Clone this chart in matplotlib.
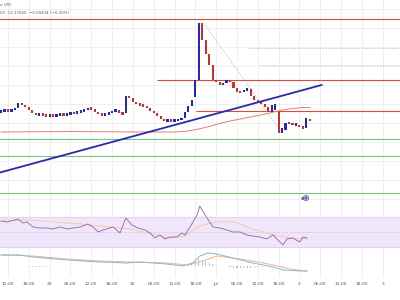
import numpy as np
import matplotlib.pyplot as plt

# hourly candles, Jun 28 10:00 -> Jul 2 03:00
opens = [2.1774, 2.1776, 2.1778, 2.1776, 2.1778, 2.1782, 2.1792, 2.1788, 2.1784, 2.1778,
         2.1772, 2.1768, 2.1770, 2.1768, 2.1766, 2.1768, 2.1766, 2.1768, 2.1770, 2.1768,
         2.1770, 2.1772, 2.1771, 2.1774, 2.1776, 2.1778, 2.1782, 2.1780, 2.1774, 2.1770,
         2.1768, 2.1770, 2.1772, 2.1776, 2.1778, 2.1772, 2.1772, 2.1806, 2.1802, 2.1794,
         2.1790, 2.1788, 2.1786, 2.1782, 2.1776, 2.1772, 2.1766, 2.1760, 2.1756, 2.1758,
         2.1756, 2.1758, 2.1758, 2.1762, 2.1774, 2.1786, 2.1804, 2.1838, 2.1952, 2.1918,
         2.1890, 2.1868, 2.1838, 2.1834, 2.1828, 2.1832, 2.1838, 2.1834, 2.1822, 2.1814,
         2.1813, 2.1818, 2.1820, 2.1806, 2.1798, 2.1794, 2.1790, 2.1784, 2.1774, 2.1778,
         2.1774, 2.1732, 2.1738, 2.1754, 2.1752, 2.1748, 2.1748, 2.1746, 2.1742, 2.1760]
closes = [2.1776, 2.1778, 2.1776, 2.1778, 2.1782, 2.1792, 2.1788, 2.1784, 2.1778, 2.1772,
          2.1768, 2.1770, 2.1768, 2.1766, 2.1768, 2.1766, 2.1768, 2.1770, 2.1768, 2.1770,
          2.1772, 2.1771, 2.1774, 2.1776, 2.1778, 2.1782, 2.1780, 2.1774, 2.1770, 2.1768,
          2.1770, 2.1772, 2.1776, 2.1778, 2.1772, 2.1770, 2.1806, 2.1802, 2.1794, 2.1790,
          2.1788, 2.1786, 2.1782, 2.1776, 2.1772, 2.1766, 2.1760, 2.1756, 2.1758, 2.1756,
          2.1758, 2.1758, 2.1762, 2.1774, 2.1786, 2.1798, 2.1838, 2.1952, 2.1918, 2.1890,
          2.1868, 2.1838, 2.1834, 2.1828, 2.1832, 2.1838, 2.1834, 2.1822, 2.1814, 2.1813,
          2.1818, 2.1820, 2.1806, 2.1798, 2.1794, 2.1790, 2.1784, 2.1774, 2.1788, 2.1790,
          2.1732, 2.1742, 2.1752, 2.1750, 2.1748, 2.1750, 2.1744, 2.1740, 2.1762, 2.1756]

# moving average (thin red curve)
ma_idx = [0, 20, 40, 50, 54, 57, 60, 63, 66, 69, 72, 75, 78, 81, 84, 87, 89]
ma_val = [2.1734, 2.1735, 2.1734, 2.1734, 2.1736, 2.1740, 2.1745, 2.1751, 2.1756,
          2.1760, 2.1764, 2.1768, 2.1773, 2.1778, 2.1781, 2.1783, 2.1783]

# drawn levels
red_levels = [2.1960, 2.1838, 2.1776]
red_starts = [-1, 44.9, 56.2]
green_levels = [2.1720, 2.1686, 2.1612]
fib_levels = [2.1902, 2.1868]
fib_starts = [70.9, 74.6]
trend_x = [-0.3, 92.4]
trend_y = [2.1653, 2.1828]
diag_x = [58.8, 79.8]
diag_y = [2.1948, 2.1744]

# RSI
rsi_idx = [0, 1.7, 4.9, 6.3, 7.5, 9.2, 11.2, 13.2, 15, 17, 19, 20.7, 22.8, 25, 26.5, 28,
           29.4, 32.3, 34.3, 36, 37.7, 39.5, 41.5, 42.9, 44.4, 45.8, 47.2, 48.7, 50.7,
           52.1, 53, 54.5, 56.5, 57.3, 58.8, 61.1, 63.1, 65.1, 66.8, 68.9, 70.9, 72.6,
           74.6, 76.6, 78.4, 79.8, 81.3, 82.4, 84.1, 86.1, 87, 88.2]
rsi_val = [64.7, 63.3, 67.3, 62, 63.3, 56.7, 55.3, 55.3, 54, 56.7, 54, 55.3, 56.7, 60.7,
           56.7, 50, 52.7, 56.7, 48.7, 68.7, 59.3, 55.3, 52.7, 48.7, 42, 46, 40.7, 43.3,
           43.3, 48.7, 46, 56.7, 72.7, 84.7, 72.7, 56.7, 55.3, 52.7, 50, 50, 46, 44.7,
           43.3, 40.7, 46, 39.3, 32.7, 40.7, 42, 36.7, 43.3, 42]
rsi_ma_idx = [0, 8.3, 22.8, 37.2, 48.7, 53, 57.3, 61.7, 67.4, 71.7, 77.5, 83.3, 88.2]
rsi_ma_val = [64.7, 66, 60.7, 54, 42, 44.7, 58, 63.3, 63.3, 55.3, 47.3, 42, 40.7]

# MACD
macd_idx = [0, 5.5, 9.2, 19, 28.5, 36.3, 40, 47.8, 52.4, 55.3, 57.3, 59.6, 62.2, 66.8,
            72.6, 78.4, 81.3, 86.1, 88.2]
macd_val = [0.0011, 0.0011, 0.0009, 0.0006, 0.0004, 0.0003, 0.0004, 0.0002, 0.0, 0.0003,
            0.0010, 0.0013, 0.0012, 0.0008, 0.0003, -0.0001, -0.0004, -0.0005, -0.0005]
sig_idx = [0, 9.2, 19, 28.5, 38, 47.8, 53.6, 57.3, 62.2, 66.8, 72.6, 78.4, 83.3, 88.2]
sig_val = [0.0011, 0.0010, 0.0007, 0.0005, 0.0004, 0.0003, 0.0001, 0.0004, 0.0010,
           0.0008, 0.0005, 0.0001, -0.0003, -0.0005]
hist_idx = [8, 9, 10, 11, 12, 13, 54, 55, 56, 57, 58, 59, 60, 61,
            66, 67, 68, 69, 70, 71, 72, 73, 74, 75, 80, 81]
hist_val = [-0.0001] * 6 + [0.0001, 0.0003, 0.0005, 0.0007, 0.0006, 0.0005, 0.0003, 0.0002] \
           + [-0.0001, -0.0002, -0.0002, -0.0002, -0.0002, -0.0002, -0.0002, -0.0001,
              -0.0001, -0.0001, -0.0001, -0.0001]

# time axis (candle index of each label)
tick_idx = [2, 8, 14, 20, 26, 32, 38, 44, 50, 56, 62, 68, 74, 80, 86, 92, 98, 104, 110]
tick_lbl = ["12:00", "18:00", "29", "06:00", "12:00", "18:00", "30", "06:00", "12:00",
            "18:00", "Jul", "06:00", "12:00", "18:00", "2", "06:00", "12:00", "18:00", "3"]

BLUE = "#2626b8"
RED = "#c8302c"
GRID = "#ececec"
XLIM = (-0.3, 115.0)
MIN_BODY = 0.0005  # keep tiny candles visible

fig = plt.figure(figsize=(4, 3), dpi=100)
fig.patch.set_facecolor("white")
ax_p = fig.add_axes([0, 0.3167, 1, 0.6833])
ax_r = fig.add_axes([0, 0.1667, 1, 0.15])
ax_m = fig.add_axes([0, 0.0767, 1, 0.09])

for ax in (ax_p, ax_r, ax_m):
    ax.set_xlim(*XLIM)
    for s in ax.spines.values():
        s.set_visible(False)
    ax.set_xticks(tick_idx)
    ax.tick_params(length=0, labelleft=False, labelbottom=False)
    ax.grid(True, color=GRID, lw=0.6)
    ax.set_axisbelow(True)

# ---- price pane
ax_p.set_ylim(2.1588, 2.1998)
ax_p.set_yticks(np.arange(2.1600, 2.2000, 0.0038))

o = np.array(opens)
c = np.array(closes)
x = np.arange(len(o))
up = c >= o
lo = np.minimum(o, c)
hi = np.maximum(o, c)
mid = (lo + hi) / 2
h = np.maximum(hi - lo, MIN_BODY)
bot = np.where(hi - lo < MIN_BODY, mid - MIN_BODY / 2, lo)
ax_p.bar(x[up], h[up], bottom=bot[up], width=0.62, color=BLUE, zorder=3)
ax_p.bar(x[~up], h[~up], bottom=bot[~up], width=0.62, color=RED, zorder=3)

for lvl, st in zip(red_levels, red_starts):
    ax_p.hlines(lvl, st, XLIM[1], color="#d84a45", lw=0.8, zorder=2)
for lvl in green_levels:
    ax_p.axhline(lvl, color="#7dc27d", lw=0.8, zorder=2)
for lvl, st in zip(fib_levels, fib_starts):
    ax_p.hlines(lvl, st, XLIM[1], color="#b0b0b0", lw=0.5, ls=(0, (2, 2)), zorder=2)
ax_p.plot(diag_x, diag_y, color="#b0b0b0", lw=0.5, ls=(0, (2, 2)), zorder=2)
ax_p.plot(ma_idx, ma_val, color="#e08070", lw=0.7, zorder=2)
ax_p.plot(trend_x, trend_y, color="#2a2aa8", lw=1.3, zorder=4)

# small alert icon
ax_p.scatter([87.9], [2.1602], s=14, facecolor="none", edgecolor="#7a5ab0", lw=0.6, zorder=5)
ax_p.scatter([87.9, 87.0], [2.1602, 2.1601], s=[2, 1.5], color="#7a5ab0", zorder=5)

# header text
ax_p.text(0.0, 0.985, "e UTC", transform=ax_p.transAxes, fontsize=2.9, color="#555555",
          va="top", ha="left")
ax_p.text(0.0, 0.945, "03  C2.17560  \u22120.00434 (\u22120.20%)", transform=ax_p.transAxes,
          fontsize=2.9, color="#555555", va="top", ha="left")

# ---- RSI pane
ax_r.set_ylim(26, 86)
ax_r.set_yticks([])
ax_r.axhspan(30, 70, color="#ede0fa", alpha=0.8, zorder=0)
for lv in (30, 50, 70):
    ax_r.axhline(lv, color="#c9b8d8", lw=0.5, ls=(0, (2, 2)), zorder=1)
ax_r.plot(rsi_ma_idx, rsi_ma_val, color="#f3cba8", lw=0.7, zorder=2)
ax_r.plot(rsi_idx, rsi_val, color="#8a6a9a", lw=0.6, zorder=3)

# ---- MACD pane
ax_m.set_ylim(-0.0011, 0.0016)
ax_m.set_yticks([])
hv = np.array(hist_val)
ax_m.bar(hist_idx, hv, width=0.35, color=np.where(hv > 0, "#9fd4d9", "#f2b0ad"), zorder=2)
ax_m.plot(sig_idx, sig_val, color="#f2b58a", lw=0.7, zorder=3)
ax_m.plot(macd_idx, macd_val, color="#8ac6e6", lw=0.7, zorder=3)
ax_m.plot(macd_idx, macd_val, color="#9a9a9a", lw=0.5, alpha=0.35, zorder=4)
ax_m.axhline(-0.0011, color="#cfcfcf", lw=0.8)

ax_m.tick_params(labelbottom=True, labelsize=3.2, labelcolor="#555555", pad=3.5)
ax_m.set_xticklabels(tick_lbl)

fig.savefig("out.png", dpi=100)
